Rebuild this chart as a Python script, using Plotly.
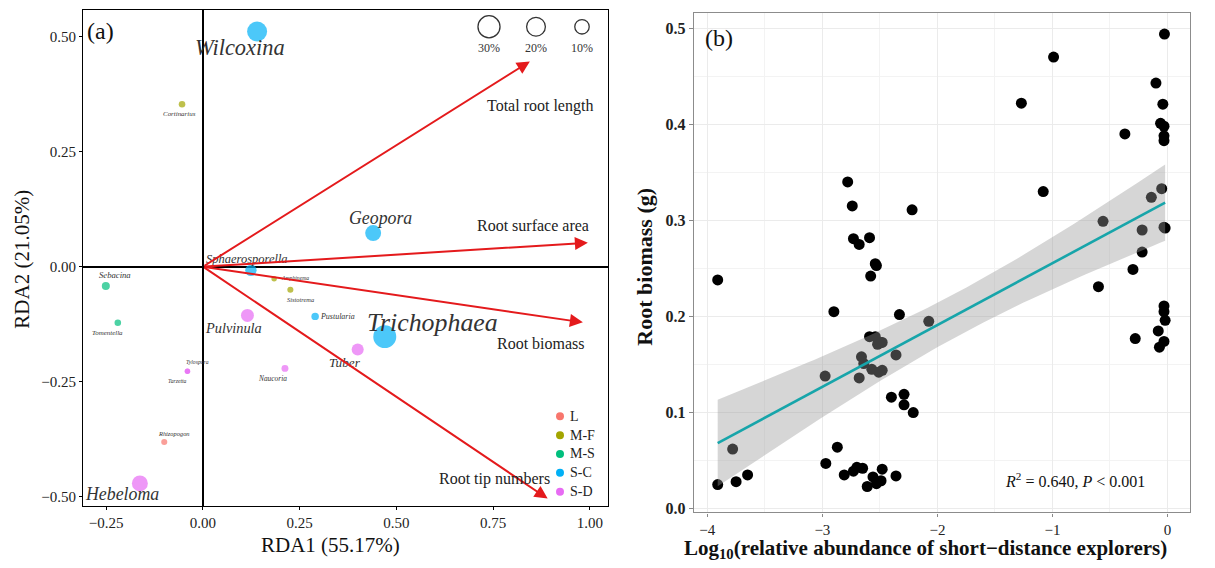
import numpy as np
import plotly.graph_objects as go

W, H = 1215, 568
SERIF = "Liberation Serif"

# ---------------- Panel (a): RDA ----------------
taxa = ["Wilcoxina", "Cortinarius", "Geopora", "Sphaerosporella", "Amphinema", "Sistotrema",
        "Pustularia", "Trichophaea", "Tuber", "Naucoria", "Pulvinula", "Sebacina",
        "Tomentella", "Tylospora", "Tarzetta", "Rhizopogon", "Hebeloma"]
taxon_group = ["S-C", "M-F", "S-C", "S-C", "M-F", "M-F", "S-C", "S-C", "S-D", "S-D", "S-D",
               "M-S", "M-S", "S-D", "S-D", "L", "S-D"]
rda1 = [0.14, -0.054, 0.44, 0.124, 0.184, 0.226, 0.29, 0.47, 0.40, 0.212, 0.115, -0.251,
        -0.22, -0.04, -0.04, -0.10, -0.163]
rda2 = [0.511, 0.353, 0.073, -0.008, -0.026, -0.050, -0.108, -0.152, -0.18, -0.221, -0.106,
        -0.042, -0.122, -0.227, -0.227, -0.381, -0.471]
abundance = [23.5, 0.6, 13.2, 5.0, 0.2, 0.4, 1.1, 33.1, 5.9, 0.8, 7.4, 1.5, 0.6, 0.2, 0.2,
             0.4, 13.2]

groups = ["L", "M-F", "M-S", "S-C", "S-D"]
group_colors = ["#F8766D", "#A3A500", "#00BF7D", "#00B0F6", "#E76BF3"]

env_vars = ["Total root length", "Root surface area", "Root biomass", "Root tip numbers"]
env_rda1 = [0.845, 0.995, 0.982, 0.891]
env_rda2 = [0.446, 0.052, -0.121, -0.504]

size_legend_pct = [30, 20, 10]

# label offsets in pixels (dx right, dy down) - layout only
label_offsets = [(-17, 16), (-3, 10), (7, -15), (-4, -11), (21, -1), (10, 10), (22, 0),
                 (48, -14), (-13, 13), (-12, 10), (-14, 13), (9, -11), (-10, 10), (10, -9),
                 (-10, 10), (10, -9), (-18, 11)]
env_label_offsets = [(10, 45), (-55, -17), (-42, 21), (-53, -20)]

# ---------------- Panel (b): regression ----------------
log_sde = [-3.91, -2.78, -2.74, -2.73, -2.68, -2.59, -2.54, -2.53, -2.58, -2.22, -2.90, -2.33,
           -2.075, -2.59, -2.54, -2.49,
           -2.52, -2.48, -2.66, -2.64, -2.36, -2.976, -2.68, -2.57, -2.51, -2.48, -2.40, -2.29,
           -2.29, -2.21, -3.78, -2.87, -2.97, -2.81, -2.73, -2.70, -2.65, -2.56, -2.48, -2.61,
           -2.53, -2.49, -2.36, -3.91, -3.75, -3.65,
           -0.026, -0.99, -0.10, -1.27, -0.04, -0.06, -0.03, -0.37, -0.03, -0.03, -1.08, -0.05,
           -0.14,
           -0.56, -0.22, -0.03, -0.02, -0.22, -0.30, -0.60, -0.03, -0.03, -0.02, -0.08, -0.28,
           -0.03, -0.07]
root_biomass = [0.238, 0.340, 0.315, 0.281, 0.275, 0.282, 0.255, 0.253, 0.242, 0.311, 0.205,
                0.202, 0.195, 0.179, 0.179, 0.173,
                0.171, 0.173, 0.158, 0.151, 0.160, 0.138, 0.136, 0.145, 0.142, 0.144, 0.116,
                0.119, 0.108, 0.100, 0.062, 0.064, 0.047, 0.035, 0.039, 0.043, 0.042, 0.033,
                0.041, 0.023, 0.026, 0.029, 0.034, 0.025, 0.028, 0.035,
                0.494, 0.470, 0.443, 0.422, 0.421, 0.401, 0.398, 0.390, 0.388, 0.383, 0.330,
                0.333, 0.324,
                0.299, 0.290, 0.293, 0.292, 0.267, 0.249, 0.231, 0.211, 0.205, 0.196, 0.185,
                0.177, 0.174, 0.168]


def px2paper(px, py):
    return px / W, 1 - py / H


def bubble_d(p):
    return 4 + 3.3 * np.sqrt(p)


def label_font(p):
    return 4 + 3.8 * np.sqrt(p)


fig = go.Figure()

# species points by group
for g, c in zip(groups, group_colors):
    idx = [i for i, gg in enumerate(taxon_group) if gg == g]
    fig.add_trace(go.Scatter(
        x=[rda1[i] for i in idx], y=[rda2[i] for i in idx], mode="markers", name=g,
        marker=dict(color=c, size=[bubble_d(abundance[i]) for i in idx], line=dict(width=0)),
        showlegend=False, xaxis="x", yaxis="y", hoverinfo="skip"))

annotations = []
shapes = []

# species labels
for i, t in enumerate(taxa):
    dx, dy = label_offsets[i]
    annotations.append(dict(
        x=rda1[i], y=rda2[i], xref="x", yref="y", text="<i>%s</i>" % t, showarrow=False,
        xanchor="center", yanchor="middle",
        xshift=dx, yshift=-dy, font=dict(family=SERIF, size=label_font(abundance[i]),
                                         color="#333333")))

# env arrows
for i, v in enumerate(env_vars):
    annotations.append(dict(
        x=env_rda1[i], y=env_rda2[i], xref="x", yref="y", ax=0, ay=0, axref="x", ayref="y",
        text="", showarrow=True, arrowhead=2, arrowsize=1.3, arrowwidth=2,
        arrowcolor="#E41A1C"))
    dx, dy = env_label_offsets[i]
    annotations.append(dict(
        x=env_rda1[i], y=env_rda2[i], xref="x", yref="y", text=v, showarrow=False,
        xanchor="center", yanchor="middle",
        xshift=dx, yshift=-dy, font=dict(family=SERIF, size=16, color="#222222")))

# size legend
for p, (cx, cy) in zip(size_legend_pct, [(489, 27), (536, 27), (582, 27)]):
    ax_, ay_ = px2paper(cx, cy)
    r = bubble_d(p) / 2
    shapes.append(dict(type="circle", xref="paper", yref="paper", xsizemode="pixel",
                       ysizemode="pixel", xanchor=ax_, yanchor=ay_, x0=-r, x1=r, y0=-r, y1=r,
                       line=dict(color="#333333", width=1.3), fillcolor="white"))
    lx, ly = px2paper(cx, cy + 21)
    annotations.append(dict(x=lx, y=ly, xref="paper", yref="paper", text="%d%%" % p,
                            xanchor="center", yanchor="middle",
                            showarrow=False, font=dict(family=SERIF, size=12, color="#333333")))

# group legend (manual)
for k, (g, c) in enumerate(zip(groups, group_colors)):
    gx, gy = px2paper(560, 420 + 19 * k)
    shapes.append(dict(type="circle", xref="paper", yref="paper", xsizemode="pixel",
                       ysizemode="pixel", xanchor=gx, yanchor=gy, x0=-4, x1=4, y0=-4, y1=4,
                       line=dict(width=0), fillcolor=c))
    tx, ty = px2paper(568, 420 + 19 * k)
    annotations.append(dict(x=tx, y=ty, xref="paper", yref="paper", text=g,
                            xanchor="left", yanchor="middle", showarrow=False,
                            font=dict(family=SERIF, size=14, color="#222222")))

# ---- panel (b) traces
fig.add_trace(go.Scatter(x=log_sde, y=root_biomass, mode="markers",
                         marker=dict(color="black", size=11), showlegend=False,
                         xaxis="x2", yaxis="y2", hoverinfo="skip"))

xv = np.array(log_sde)
yv = np.array(root_biomass)
n = len(xv)
slope, intercept = np.polyfit(xv, yv, 1)
resid = yv - (intercept + slope * xv)
s = np.sqrt(np.sum(resid ** 2) / (n - 2))
xm = xv.mean()
sxx = np.sum((xv - xm) ** 2)
xg = np.linspace(xv.min(), xv.max(), 80)
yg = intercept + slope * xg
se = s * np.sqrt(1 / n + (xg - xm) ** 2 / sxx)
tcrit = 1.995
fig.add_trace(go.Scatter(x=xg, y=yg - tcrit * se, mode="lines", line=dict(width=0),
                         showlegend=False, xaxis="x2", yaxis="y2", hoverinfo="skip"))
fig.add_trace(go.Scatter(x=xg, y=yg + tcrit * se, mode="lines", line=dict(width=0),
                         fill="tonexty", fillcolor="rgba(153,153,153,0.4)",
                         showlegend=False, xaxis="x2", yaxis="y2", hoverinfo="skip"))
fig.add_trace(go.Scatter(x=xg, y=yg, mode="lines", line=dict(color="#17A5AA", width=2.6),
                         showlegend=False, xaxis="x2", yaxis="y2", hoverinfo="skip"))


# panel labels & axis titles
def ann_px(px, py, text, size, angle=0, **kw):
    x, y = px2paper(px, py)
    d = dict(x=x, y=y, xref="paper", yref="paper", text=text, showarrow=False,
             xanchor="center", yanchor="middle",
             textangle=angle, font=dict(family=SERIF, size=size, color="#111111"))
    d.update(kw)
    annotations.append(d)


ann_px(101, 31, "(a)", 24)
ann_px(719, 38, "(b)", 24)
ann_px(330, 550, "RDA1 (55.17%)", 21)
ann_px(22, 262, "RDA2 (21.05%)", 21, angle=-90)
ann_px(645, 269, "<b>Root biomass (g)</b>", 22, angle=-90)
ann_px(925, 554, "<b>Log<sub>10</sub>(relative abundance of short−distance explorers)</b>", 21)
ann_px(1075, 484, "<i>R</i><sup>2</sup> = 0.640, <i>P</i> < 0.001", 16)

xa0, _ = px2paper(83, 0)
xa1, _ = px2paper(608, 0)
_, ya1 = px2paper(0, 10)
_, ya0 = px2paper(0, 510)
xb0, _ = px2paper(694, 0)
xb1, _ = px2paper(1190, 0)
_, yb1 = px2paper(0, 13)
_, yb0 = px2paper(0, 517)

tickfont = dict(family=SERIF, size=15, color="#222222")
fig.update_layout(
    width=W, height=H, margin=dict(l=0, r=0, t=0, b=0),
    paper_bgcolor="white", plot_bgcolor="white", showlegend=False,
    xaxis=dict(domain=[xa0, xa1], range=[-0.31, 1.047],
               tickvals=[-0.25, 0, 0.25, 0.5, 0.75, 1.0],
               ticktext=["−0.25", "0.00", "0.25", "0.50", "0.75", "1.00"],
               ticks="outside", ticklen=3, tickcolor="black", showline=True, mirror=True,
               linecolor="black", linewidth=1.2, showgrid=False, zeroline=True,
               zerolinecolor="black", zerolinewidth=1.6, tickfont=tickfont),
    yaxis=dict(domain=[ya0, ya1], range=[-0.519, 0.558],
               tickvals=[-0.5, -0.25, 0, 0.25, 0.5],
               ticktext=["−0.50", "−0.25", "0.00", "0.25", "0.50"],
               ticks="outside", ticklen=3, tickcolor="black", showline=True, mirror=True,
               linecolor="black", linewidth=1.2, showgrid=False, zeroline=True,
               zerolinecolor="black", zerolinewidth=1.6, tickfont=tickfont),
    xaxis2=dict(domain=[xb0, xb1], range=[-4.116, 0.196], anchor="y2",
                tickvals=[-4, -3, -2, -1, 0], ticktext=["−4", "−3", "−2", "−1", "0"],
                ticks="outside", ticklen=3, tickcolor="#888888", showline=True, mirror=True,
                linecolor="#8c8c8c", linewidth=1.4, showgrid=True, gridcolor="#ebebeb",
                gridwidth=1.1, zeroline=False,
                minor=dict(dtick=0.5, showgrid=True, gridcolor="#f3f3f3", gridwidth=0.6),
                tickfont=dict(family=SERIF, size=15, color="#222222")),
    yaxis2=dict(domain=[yb0, yb1], range=[-0.004, 0.516], anchor="x2",
                tickvals=[0, 0.1, 0.2, 0.3, 0.4, 0.5],
                ticktext=["<b>0.0</b>", "<b>0.1</b>", "<b>0.2</b>", "<b>0.3</b>", "<b>0.4</b>",
                          "<b>0.5</b>"],
                ticks="outside", ticklen=4, tickcolor="#888888", showline=True, mirror=True,
                linecolor="#8c8c8c", linewidth=1.4, showgrid=True, gridcolor="#ebebeb",
                gridwidth=1.1, zeroline=False,
                minor=dict(dtick=0.05, showgrid=True, gridcolor="#f3f3f3", gridwidth=0.6),
                tickfont=dict(family=SERIF, size=16, color="#222222")),
    annotations=annotations, shapes=shapes,
)

fig.write_html("out.html", config={"displayModeBar": False},
               post_script="document.body.style.margin='0px';")
